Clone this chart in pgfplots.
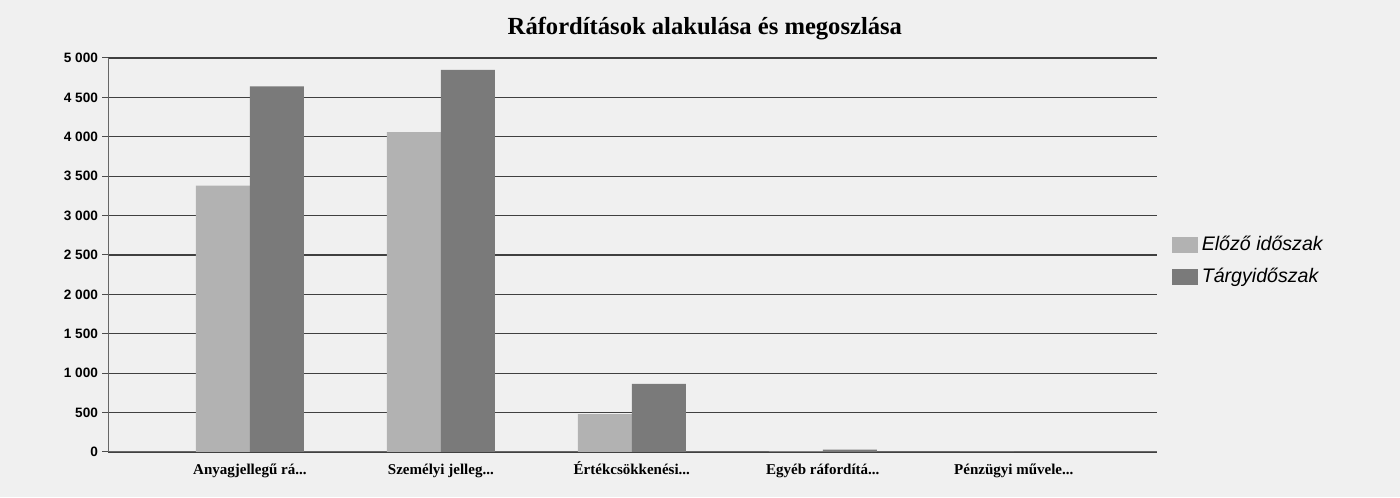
\documentclass[border=0pt]{standalone}
\usepackage{pgfplots}
\pgfplotsset{compat=1.18}
\usepackage{fontspec}
\setmainfont{Liberation Serif}
\newfontfamily\sansf{Liberation Sans}
\begin{document}
\begin{tikzpicture}[x=1pt,y=1pt]
\fill[black!6] (0,0) rectangle (700,248.5);
\begin{axis}[
  at={(54pt,22.5pt)}, anchor=south west,
  scale only axis, width=524.5pt, height=197pt,
  xmin=-0.743, xmax=4.75, ymin=0, ymax=5000,
  ybar=0pt, bar width=27pt,
  axis lines*=left,
  axis line style={black!60, line width=0.5pt},
  xtick={0,1,2,3,4},
  xticklabels={Anyagjellegű rá..{}., Személyi jelleg..{}., Értékcsökkenési..{}., Egyéb ráfordítá..{}., Pénzügyi művele..{}.},
  ytick={0,500,...,5000},
  ymajorgrids, grid style={black!75, line width=0.6pt},
  xtick style={draw=none},
  ytick style={black!70, line width=0.5pt},
  tick align=outside, major tick length=3pt,
  /pgf/number format/assume math mode=true,
  /pgf/number format/1000 sep={\ },
  yticklabel style={font=\sansf\bfseries\fontsize{6.8}{8}\selectfont, xshift=1.5pt},
  xticklabel style={font=\bfseries\fontsize{7.5}{9}\selectfont, anchor=base, text height=1.6ex, yshift=-8.5pt},
  title={Ráfordítások alakulása és megoszlása},
  title style={font=\bfseries\fontsize{12.3}{14}\selectfont, at={(0.569,1.045)}, anchor=center},
  legend style={at={(1.008,0.485)}, anchor=west, draw=none, fill=none,
    font=\sansf\itshape\fontsize{9.8}{11}\selectfont, row sep=3pt},
  legend cell align=left,
  legend image code/.code={\fill[#1] (0pt,-4pt) rectangle (13pt,4pt);},
]
\addplot[fill=black!30, draw=none] coordinates {(0,3380) (1,4060) (2,480) (3,5) (4,0)};
\addplot[fill=black!52, draw=none] coordinates {(0,4640) (1,4850) (2,865) (3,30) (4,0)};
\legend{Előző időszak, Tárgyidőszak}
\end{axis}
\end{tikzpicture}
\end{document}
